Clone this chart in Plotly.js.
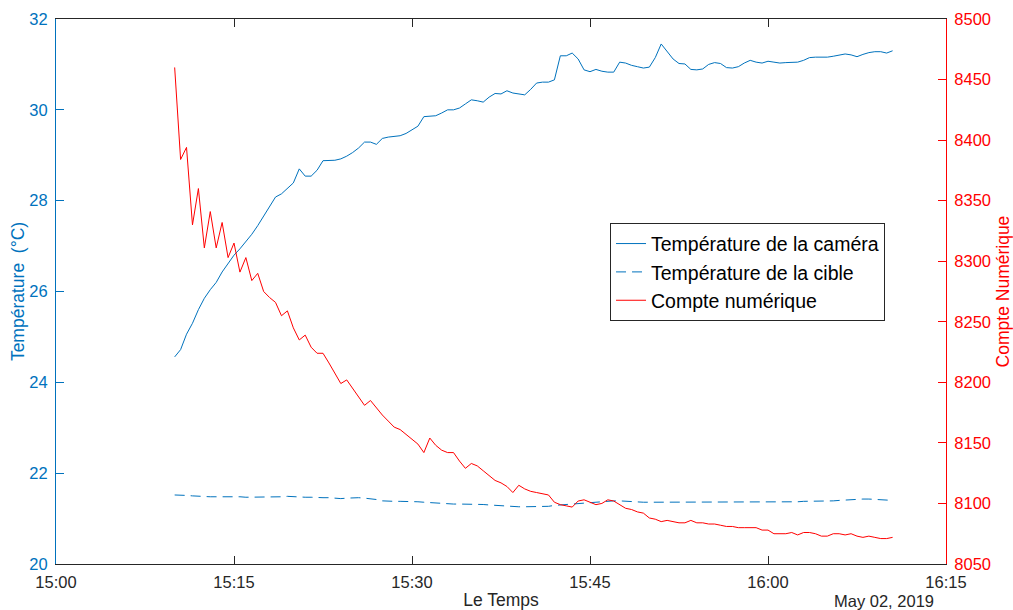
<!DOCTYPE html>
<html>
<head>
<meta charset="utf-8">
<script src="https://cdn.plot.ly/plotly-3.0.1.min.js"></script>
<style>html,body{margin:0;padding:0;background:#fff;}#chart{width:1013px;height:610px;}</style>
</head>
<body>
<div id="chart"></div>
<script>
// Sampling: every 30 s starting 15:10:00 on 2019-05-02
const dateStr = "2019-05-02";
const startTime = "15:10:00";
const stepSeconds = 30;

const cameraTemp = [
  24.56, 24.72, 25.06, 25.30, 25.60, 25.85, 26.04, 26.20, 26.43, 26.62,
  26.80, 26.94, 27.10, 27.26, 27.45, 27.67, 27.86, 28.08, 28.15, 28.28,
  28.39, 28.70, 28.54, 28.54, 28.67, 28.88, 28.88, 28.89, 28.92, 28.98,
  29.06, 29.16, 29.29, 29.29, 29.24, 29.37, 29.40, 29.41, 29.43, 29.48,
  29.57, 29.64, 29.85, 29.86, 29.87, 29.93, 30.00, 30.00, 30.04, 30.13,
  30.22, 30.20, 30.17, 30.28, 30.36, 30.35, 30.42, 30.37, 30.35, 30.33,
  30.45, 30.59, 30.61, 30.61, 30.66, 31.19, 31.19, 31.25, 31.12, 30.88,
  30.84, 30.89, 30.85, 30.83, 30.83, 31.05, 31.03, 30.98, 30.95, 30.92,
  30.94, 31.15, 31.45, 31.28, 31.12, 31.02, 31.01, 30.89, 30.88, 30.90,
  31.00, 31.04, 31.02, 30.93, 30.92, 30.95, 31.03, 31.09, 31.05, 31.03,
  31.07, 31.05, 31.03, 31.04, 31.05, 31.05, 31.09, 31.15, 31.16, 31.16,
  31.16, 31.18, 31.20, 31.23, 31.21, 31.17, 31.22, 31.26, 31.28, 31.28, 31.25, 31.30
];

const targetTemp = [
  21.52, 21.52, 21.51, 21.50, 21.49, 21.48, 21.48, 21.48, 21.48, 21.49,
  21.48, 21.48, 21.47, 21.47, 21.48, 21.48, 21.47, 21.47, 21.48, 21.49,
  21.48, 21.47, 21.47, 21.47, 21.46, 21.46, 21.46, 21.45, 21.44, 21.45,
  21.46, 21.46, 21.45, 21.44, 21.42, 21.39, 21.38, 21.38, 21.38, 21.38,
  21.37, 21.37, 21.36, 21.35, 21.35, 21.34, 21.33, 21.32, 21.32, 21.32,
  21.31, 21.31, 21.31, 21.30, 21.29, 21.28, 21.27, 21.26, 21.26, 21.26,
  21.26, 21.26, 21.26, 21.27, 21.29, 21.30, 21.31, 21.32, 21.33, 21.34,
  21.35, 21.36, 21.38, 21.39, 21.39, 21.39, 21.38, 21.37, 21.36, 21.36,
  21.36, 21.36, 21.36, 21.36, 21.36, 21.36, 21.36, 21.36, 21.36, 21.36,
  21.37, 21.37, 21.37, 21.37, 21.37, 21.37, 21.37, 21.37, 21.36, 21.36,
  21.36, 21.36, 21.36, 21.37, 21.37, 21.37, 21.38, 21.38, 21.38, 21.38,
  21.38, 21.39, 21.40, 21.41, 21.41, 21.42, 21.43, 21.43, 21.42, 21.41, 21.40, 21.40
];

const digitalCount = [
  8460, 8384, 8394, 8330, 8360, 8311, 8341, 8311, 8332, 8303,
  8315, 8291, 8303, 8284, 8290, 8275, 8270, 8266, 8255, 8259,
  8245, 8235, 8239, 8229, 8224, 8224, 8216, 8208, 8199, 8202,
  8195, 8188, 8181, 8185, 8179, 8173, 8168, 8163, 8161, 8157,
  8153, 8149, 8142, 8154, 8148, 8144, 8142, 8142, 8135, 8129,
  8133, 8131, 8127, 8123, 8119, 8117, 8114, 8109, 8115, 8112,
  8110, 8109, 8108, 8107, 8101, 8099, 8098, 8097, 8102, 8103,
  8101, 8099, 8100, 8103, 8102, 8099, 8096, 8095, 8093, 8092,
  8088, 8087, 8085, 8086, 8085, 8084, 8084, 8086, 8084, 8084,
  8083, 8083, 8082, 8081, 8081, 8080, 8080, 8080, 8080, 8078,
  8078, 8075, 8075, 8075, 8076, 8074, 8076, 8076, 8075, 8073,
  8073, 8075, 8075, 8074, 8075, 8073, 8072, 8073, 8072, 8071, 8071, 8072
];

const seriesNames = ["Température de la caméra", "Température de la cible", "Compte numérique"];
const xTickLabels = ["15:00", "15:15", "15:30", "15:45", "16:00", "16:15"];
const xRange = ["2019-05-02 15:00:00", "2019-05-02 16:15:00"];
const yLeftRange = [20, 32];
const yRightRange = [8050, 8500];

function pad(n){ return (n < 10 ? "0" : "") + n; }
const sp = startTime.split(":").map(Number);
const startSec = sp[0]*3600 + sp[1]*60 + sp[2];
const times = cameraTemp.map(function(_, i){
  const s = startSec + i*stepSeconds;
  return dateStr + " " + pad(Math.floor(s/3600)) + ":" + pad(Math.floor((s%3600)/60)) + ":" + pad(s%60);
});
const tickVals = xTickLabels.map(function(t){ return dateStr + " " + t + ":00"; });

const BLUE = "#0072BD", RED = "#FF0000", DARK = "#262626";
const FONT = "Liberation Sans, Arial, Helvetica, sans-serif";

const traces = [
  {x: times, y: cameraTemp, name: seriesNames[0], type: "scatter", mode: "lines",
   line: {color: BLUE, width: 1}, yaxis: "y"},
  {x: times, y: targetTemp, name: seriesNames[1], type: "scatter", mode: "lines",
   line: {color: BLUE, width: 1, dash: "10px,6px"}, yaxis: "y"},
  {x: times, y: digitalCount, name: seriesNames[2], type: "scatter", mode: "lines",
   line: {color: RED, width: 1}, yaxis: "y2"}
];

const layout = {
  width: 1013, height: 610,
  margin: {l: 56, r: 67, t: 19, b: 46, pad: 0},
  paper_bgcolor: "#fff", plot_bgcolor: "#fff",
  font: {family: FONT, size: 16, color: DARK},
  showlegend: true,
  legend: {x: 0.6225, y: 0.625, xanchor: "left", yanchor: "top",
    bgcolor: "#fff", bordercolor: DARK, borderwidth: 1,
    font: {family: FONT, size: 19.5, color: "#000"}, itemwidth: 30, tracegroupgap: 0},
  xaxis: {
    type: "date", range: xRange, tickvals: tickVals, ticktext: xTickLabels,
    ticks: "inside", ticklen: 8, tickwidth: 1, tickcolor: DARK,
    showline: true, linecolor: DARK, linewidth: 1, mirror: "ticks",
    showgrid: false, zeroline: false,
    tickfont: {family: FONT, size: 16.5, color: DARK},
    ticklabelstandoff: 3,
    title: {text: "Le Temps", font: {family: FONT, size: 17.5, color: DARK}, standoff: 5}
  },
  yaxis: {
    range: yLeftRange, dtick: 2, tick0: 20,
    ticks: "inside", ticklen: 8, tickwidth: 1, tickcolor: BLUE,
    showline: true, linecolor: BLUE, linewidth: 1,
    showgrid: false, zeroline: false,
    tickfont: {family: FONT, size: 16.5, color: BLUE},
    ticklabelstandoff: 4,
    title: {text: "Température  (°C)", font: {family: FONT, size: 17.5, color: BLUE}, standoff: 0}
  },
  yaxis2: {
    range: yRightRange, dtick: 50, tick0: 8050, overlaying: "y", side: "right",
    ticks: "inside", ticklen: 8, tickwidth: 1, tickcolor: RED,
    showline: true, linecolor: RED, linewidth: 1,
    showgrid: false, zeroline: false,
    tickfont: {family: FONT, size: 16.5, color: RED},
    ticklabelstandoff: 4,
    title: {text: "Compte Numérique", font: {family: FONT, size: 17.5, color: RED}, standoff: 6}
  },
  annotations: [{
    text: "May 02, 2019", xref: "paper", yref: "paper", x: 0.989, y: -0.068,
    xanchor: "right", yanchor: "middle", showarrow: false,
    font: {family: FONT, size: 16.5, color: DARK}
  }]
};

Plotly.newPlot("chart", traces, layout, {displayModeBar: false, staticPlot: true});
</script>
</body>
</html>
